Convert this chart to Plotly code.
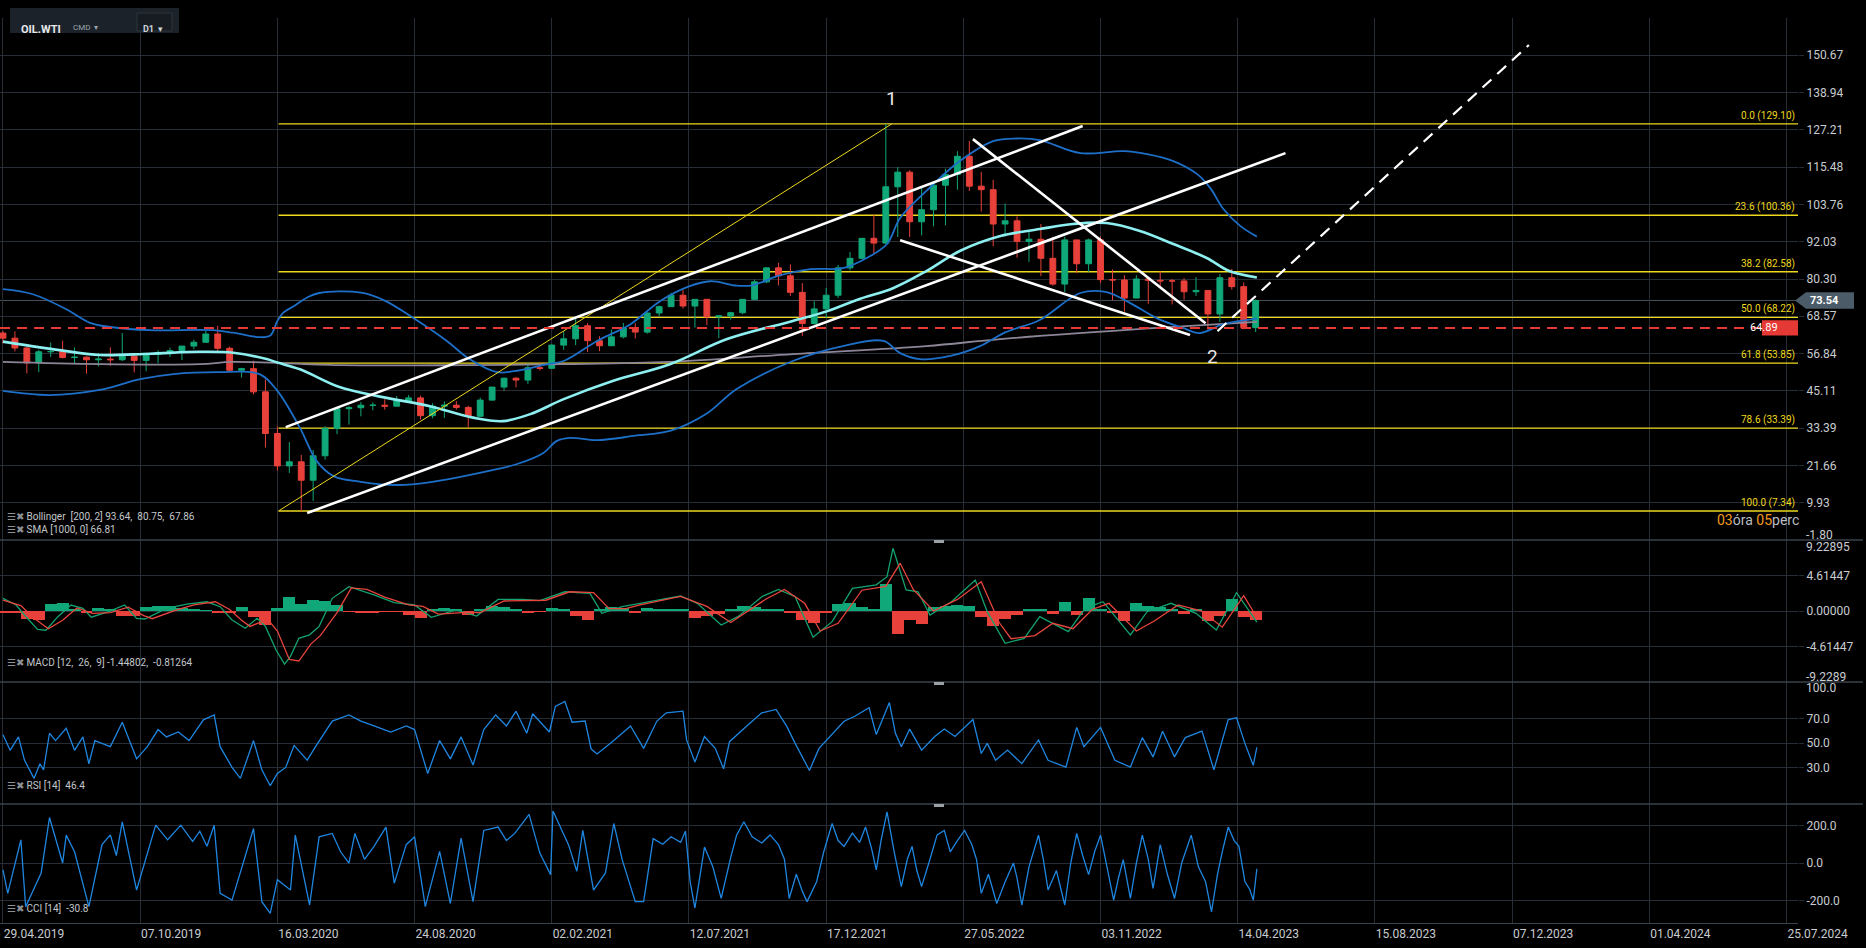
import plotly.graph_objects as go
from plotly.subplots import make_subplots

# x axis is the trading-day index, 0 = 29.04.2019, one gridline every 115 bars
date_ticks = [0, 115, 230, 345, 460, 575, 690, 805, 920, 1035, 1150, 1265, 1380, 1495]
date_labels = ['29.04.2019', '07.10.2019', '16.03.2020', '24.08.2020', '02.02.2021',
               '12.07.2021', '17.12.2021', '27.05.2022', '03.11.2022', '14.04.2023',
               '15.08.2023', '07.12.2023', '01.04.2024', '25.07.2024']
x_range = [-2.5, 1504.6]

# price candles, one per 10 trading days
candle_idx = list(range(0, 1060, 10))
first_open = 63.3
high = [64.0, 63.8, 59.0, 58.0, 60.3, 60.9, 58.8, 56.0, 57.0, 58.8,
        63.3, 57.0, 56.9, 57.9, 58.7, 59.2, 61.2, 64.1, 65.6, 59.0,
        52.4, 54.6, 48.7, 34.0, 29.0, 25.0, 26.5, 34.0, 39.7, 40.4,
        41.6, 41.5, 42.5, 43.5, 43.8, 43.6, 41.2, 41.8, 41.9, 40.4,
        43.0, 46.3, 49.3, 49.4, 53.9, 53.9, 59.8, 63.8, 67.9, 66.4,
        62.3, 64.4, 66.5, 66.4, 69.8, 72.0, 76.0, 76.9, 74.0, 74.0,
        68.8, 70.0, 74.0, 80.1, 84.0, 85.4, 84.9, 79.0, 73.3, 77.5,
        84.7, 88.8, 93.2, 100.5, 129.1, 115.5, 114.5, 109.0, 110.0, 115.0,
        120.5, 123.7, 114.0, 111.5, 104.0, 100.0, 95.5, 97.6, 93.6, 93.6,
        92.6, 93.0, 93.7, 83.3, 81.5, 81.5, 80.5, 82.7, 80.3, 80.6,
        80.9, 76.5, 81.8, 83.5, 79.2, 73.9]
low = [60.0, 57.5, 50.6, 51.0, 55.8, 55.3, 53.6, 50.5, 52.8, 53.0,
       54.5, 50.9, 51.3, 53.8, 55.8, 54.8, 58.2, 60.2, 57.4, 51.3,
       49.3, 44.0, 27.3, 20.0, 19.3, 7.3, 10.5, 23.5, 31.5, 34.5,
       37.1, 39.0, 39.2, 40.2, 41.5, 36.1, 36.5, 36.6, 39.2, 33.6,
       37.0, 42.0, 45.2, 46.2, 47.3, 51.5, 52.0, 58.0, 59.5, 57.3,
       57.6, 59.3, 61.6, 61.6, 63.1, 68.5, 71.5, 71.0, 65.0, 65.8,
       61.7, 67.5, 69.2, 73.9, 79.0, 78.3, 75.0, 62.4, 66.0, 68.1,
       74.3, 83.0, 86.5, 88.0, 91.3, 93.5, 93.5, 94.0, 96.9, 97.2,
       108.4, 108.0, 101.5, 90.6, 93.7, 87.0, 85.7, 81.2, 78.2, 76.2,
       82.1, 82.5, 79.0, 73.6, 70.1, 74.3, 72.5, 78.0, 72.3, 73.8,
       75.0, 64.4, 66.8, 77.0, 64.5, 63.6]
close = [61.7, 58.6, 53.9, 57.4, 57.5, 55.6, 55.7, 54.9, 55.1, 54.9,
         56.0, 54.7, 56.6, 57.2, 57.8, 59.2, 60.4, 63.0, 58.5, 51.6,
         52.1, 44.8, 31.7, 21.5, 22.8, 17.0, 24.7, 33.3, 39.5, 39.8,
         40.6, 40.6, 40.3, 42.0, 42.9, 37.3, 40.3, 40.6, 39.9, 37.1,
         42.2, 46.3, 49.1, 48.5, 52.4, 52.2, 59.5, 61.5, 65.6, 60.9,
         59.3, 62.1, 64.9, 63.6, 69.6, 71.6, 75.2, 71.8, 73.9, 68.4,
         68.7, 69.7, 73.9, 79.4, 83.8, 81.3, 76.1, 66.3, 70.9, 75.2,
         83.8, 86.8, 93.1, 91.6, 109.3, 113.9, 98.3, 102.1, 109.8, 113.2,
         118.9, 109.5, 108.4, 97.6, 98.6, 92.1, 92.8, 86.8, 78.7, 92.6,
         85.1, 92.6, 80.1, 80.0, 74.3, 80.3, 79.9, 79.7, 79.7, 76.3,
         76.7, 69.3, 80.7, 77.9, 65.0, 73.54]
opens = [first_open] + close[:-1]

# Bollinger (200, 2) and SMA 1000
bb_up_x = [0, 25, 53, 73, 90, 123, 176, 193, 215, 224, 230, 235, 244, 255, 265, 300, 320,
           344, 372, 391, 414, 428, 456, 470, 498, 526, 551, 575, 593, 615, 629, 649, 677,
           704, 724, 741, 752, 774, 802, 830, 850, 869, 903, 939, 960, 981, 1001, 1012,
           1023, 1037, 1051]
bb_up_y = [77.1, 75.5, 70.8, 66.5, 65.2, 64.2, 64.2, 63.4, 62.0, 62.5, 67.1, 69.7, 71.8,
           74.5, 75.9, 76.0, 73.5, 68.0, 60.8, 55.1, 51.0, 51.3, 53.5, 54.5, 60.8, 66.1,
           73.4, 78.0, 79.6, 78.2, 78.4, 81.2, 83.4, 83.7, 86.9, 91.3, 99.5, 108.0, 117.4,
           123.7, 124.5, 124.0, 119.9, 120.5, 119.5, 117.4, 113.3, 108.9, 102.3, 97.0, 93.64]
bb_mid_x = [0, 53, 81, 123, 165, 193, 221, 230, 249, 282, 316, 358, 394, 419, 442, 470,
            511, 559, 607, 662, 691, 718, 746, 774, 802, 836, 869, 897, 925, 953, 981,
            1009, 1028, 1051]
bb_mid_y = [60.6, 57.6, 56.4, 56.8, 57.4, 57.1, 55.1, 54.0, 51.9, 46.3, 43.3, 40.3, 36.7,
            35.6, 37.8, 42.5, 48.2, 53.5, 61.4, 67.1, 70.2, 74.0, 77.4, 82.8, 89.1, 93.8,
            96.0, 97.6, 97.9, 95.4, 91.3, 86.9, 82.8, 80.75]
bb_low_x = [0, 39, 81, 115, 143, 179, 215, 230, 249, 263, 277, 300, 330, 360, 414, 431,
            453, 464, 475, 498, 530, 559, 590, 615, 662, 704, 738, 752, 769, 794, 819,
            840, 869, 903, 925, 945, 967, 989, 1003, 1023, 1051]
bb_low_y = [45.1, 43.8, 45.4, 48.8, 50.4, 51.0, 50.4, 45.1, 33.4, 23.0, 18.3, 16.5, 15.5,
            16.5, 20.5, 22.1, 25.6, 29.3, 30.3, 29.6, 31.0, 32.5, 38.0, 45.7, 54.5, 59.2,
            60.8, 57.0, 55.1, 56.1, 59.2, 63.5, 67.4, 75.9, 76.2, 72.7, 68.0, 64.9, 63.3,
            66.1, 67.86]
sma_x = [0, 81, 165, 193, 282, 386, 470, 559, 662, 774, 836, 967, 1051]
sma_y = [54.2, 53.5, 53.5, 54.2, 53.2, 53.2, 53.5, 54.2, 56.7, 59.2, 61.4, 64.9, 66.81]

# Fibonacci retracement
fib_names = ['0.0', '23.6', '38.2', '50.0', '61.8', '78.6', '100.0']
fib_levels = [129.10, 100.36, 82.58, 68.22, 53.85, 33.39, 7.34]
fib_start = 231
fib_diag_x = [231, 745]
fib_diag_y = [7.34, 129.10]

# hand drawn trend lines
chan_up_x, chan_up_y = [237, 905], [33.7, 128.4]
chan_low_x, chan_low_y = [255, 1075], [6.7, 119.9]
wedge_up_x, wedge_up_y = [813, 1008], [124.3, 66.4]
wedge_low_x, wedge_low_y = [752, 995], [92.5, 62.7]
proj_x, proj_y = [1018, 1279], [63.9, 153.9]
wave_labels = ['1', '2']
wave_x = [745, 1014]
wave_y = [137.0, 56.0]
support_level = 64.89
last_price = 73.54

# MACD (12, 26, 9)
macd_x = [0, 11, 18, 29, 36, 46, 57, 67, 74, 88, 102, 112, 119, 137, 154, 171, 182, 192,
          203, 213, 220, 229, 236, 241, 248, 257, 265, 276, 290, 300, 311, 328, 345, 359,
          380, 397, 415, 436, 450, 471, 492, 502, 519, 534, 551, 568, 582, 602, 616, 636,
          650, 664, 679, 695, 712, 732, 741, 746, 757, 767, 777, 795, 815, 825, 840, 856,
          869, 893, 907, 922, 945, 959, 979, 1000, 1017, 1034, 1051]
macd_y = [1.65, 0.78, -0.52, -2.4, -2.5, -0.74, 0.78, 0.35, -0.8, -0.1, 0.78, -0.95, -1.04,
          0.35, 0.9, 1.2, 0.56, -1.17, -2.25, -0.95, -2.0, -5.1, -6.9, -5.9, -3.55, -3.1,
          -2.0, 1.65, 3.16, 2.7, 2.1, 1.08, 0.78, -0.82, 0.13, -0.65, 1.5, 1.5, 1.34, 2.5,
          2.3, -0.3, 0.56, 1.0, 1.43, 1.95, 1.0, -1.82, -0.74, 1.86, 2.8, 1.86, -3.4, -1.39,
          2.95, 3.4, 4.46, 8.15, 2.73, 2.5, -0.52, 1.21, 4.03, -0.09, -4.2, -3.55, -0.74,
          -2.69, 0.35, 1.21, -3.12, -0.09, 1.0, -0.3, -2.47, 2.38, -1.448]
signal_x = [0, 15, 25, 38, 50, 62, 75, 90, 105, 118, 125, 145, 160, 178, 190, 200, 207,
            222, 230, 240, 248, 258, 266, 280, 292, 305, 320, 340, 352, 365, 385, 400, 420,
            440, 455, 475, 495, 508, 522, 534, 568, 590, 610, 640, 655, 672, 685, 700, 720,
            740, 752, 763, 780, 800, 820, 835, 845, 865, 880, 897, 913, 927, 950, 965, 985,
            1005, 1022, 1040, 1051]
signal_y = [1.4, 0.7, -0.8, -2.3, -1.2, 0.4, -0.3, -0.2, 0.5, -0.6, -1.0, 0.1, 0.8, 1.2,
            0.2, -1.2, -2.0, -1.1, -2.6, -6.3, -6.5, -4.3, -3.2, -0.2, 3.0, 2.8, 1.8, 0.8,
            0.6, -0.4, -0.2, -0.2, 1.3, 1.4, 1.4, 2.5, 2.4, 0.3, 0.3, 0.8, 1.9, 0.6, -1.5,
            1.6, 2.8, 1.0, -2.6, -1.6, 2.7, 3.2, 6.2, 2.8, 0.0, 1.5, 3.8, -1.5, -3.6, -3.2,
            -1.6, -2.3, 0.2, 1.0, -2.6, -1.3, 0.8, 0.0, -2.1, 2.0, -0.81]
hist = [-0.3, -0.2, -1.0, -1.2, 0.9, 1.1, 0.3, -0.2, 0.4, 0.3,
        -0.6, -0.7, 0.5, 0.6, 0.6, 0.4, 0.3, 0.1, -0.3, -0.2,
        0.5, -0.8, -1.8, 0.4, 1.8, 0.9, 1.4, 1.3, 0.8, -0.1,
        -0.2, -0.2, -0.1, -0.1, -0.5, -0.9, 0.2, 0.4, 0.3, -0.5,
        0.3, 0.6, 0.5, 0.2, -0.2, -0.1, 0.4, 0.3, -0.6, -1.2,
        0.2, 0.5, 0.4, -0.2, 0.4, 0.2, 0.3, 0.2, -0.9, -0.6,
        -0.4, 0.2, 0.6, 0.5, 0.3, 0.2, -0.2, -1.2, -1.5, -0.3,
        0.9, 1.0, 0.5, 0.2, 3.5, -3.0, -1.2, -1.7, 0.5, 0.6,
        0.8, 0.7, -0.8, -2.0, -1.0, -0.5, 0.3, 0.2, -0.4, 1.2,
        -0.5, 1.7, 0.2, -0.3, -1.3, 1.1, 0.6, 0.5, 0.3, -0.4,
        0.3, -1.3, -0.6, 1.6, -0.8, -1.2]

# RSI (14)
rsi_x = [0, 6, 13, 18, 26, 31, 34, 39, 44, 53, 60, 67, 72, 77, 90, 100, 112, 121, 130, 137,
         147, 156, 168, 177, 182, 192, 199, 210, 217, 224, 230, 237, 244, 255, 262, 269, 276,
         290, 300, 311, 325, 338, 345, 356, 366, 375, 384, 394, 403, 413, 422, 430, 439, 444,
         458, 463, 471, 477, 488, 493, 498, 512, 526, 537, 548, 556, 570, 573, 580, 588, 597,
         604, 609, 623, 636, 648, 657, 664, 676, 684, 695, 705, 714, 726, 732, 743, 748, 753,
         760, 770, 781, 789, 798, 813, 820, 825, 832, 842, 854, 868, 876, 891, 900, 906, 920,
         932, 945, 955, 964, 972, 982, 991, 1005, 1015, 1027, 1034, 1041, 1048, 1051]
rsi_y = [56.7, 44, 55, 36, 21, 33, 28, 58, 52, 62, 44, 55, 33, 52, 47, 67, 37, 47, 61, 55,
         59, 52, 69, 73, 47, 30, 21, 52, 28, 15, 25, 30, 48, 36, 47, 58, 68, 73, 68, 64,
         59, 64, 61, 25, 52, 37, 55, 32, 61, 73, 64, 76, 58, 74, 59, 80, 84, 67, 68, 45,
         41, 52, 64, 45.6, 67.8, 74.7, 76.1, 52.5, 34.4, 55.3, 45.6, 28.9, 51.1, 63.6, 74.7,
         77.5, 63.6, 49.7, 27.5, 45.6, 56.9, 67.8, 71.9, 78.9, 56.9, 83.1, 58.1, 47.0, 61.4,
         44.2, 55.3, 61.4, 55.3, 69.2, 41.4, 49.7, 35.8, 44.2, 33.1, 52.5, 35.8, 30.3, 62.8,
         47.0, 62.8, 35.8, 30.3, 54.4, 38.6, 59.7, 38.6, 54.4, 59.7, 28.1, 69.2, 70.6, 49.7,
         31.7, 46.4]

# CCI (14)
cci_x = [0, 4, 15, 19, 32, 39, 50, 53, 60, 66, 72, 83, 90, 95, 100, 112, 120, 128, 138, 149,
         159, 165, 171, 177, 182, 192, 210, 217, 224, 230, 241, 245, 257, 265, 276, 283, 290,
         295, 303, 311, 321, 328, 338, 345, 354, 366, 375, 384, 394, 403, 415, 422, 429, 441,
         450, 459, 461, 474, 481, 486, 495, 505, 512, 519, 530, 537, 545, 553, 560, 568, 572,
         576, 580, 588, 595, 602, 610, 615, 621, 628, 636, 643, 650, 655, 659, 665, 670, 674,
         682, 688, 695, 700, 705, 712, 718, 723, 728, 732, 736, 741, 747, 753, 758, 762, 766,
         770, 777, 783, 789, 794, 800, 806, 812, 816, 820, 826, 833, 840, 847, 850, 854, 860,
         868, 872, 876, 883, 890, 895, 900, 905, 910, 915, 920, 926, 931, 935, 939, 945, 950,
         955, 960, 964, 970, 976, 982, 988, 996, 1002, 1008, 1013, 1018, 1022, 1027, 1032,
         1036, 1041, 1045, 1048, 1051]
cci_y = [-36, -162, 124, -233, -53, 243, 0, 149, 60, -80, -233, 98, 150, 40, 220, -144, 30,
         202, 124, 202, 116, 170, 90, 202, -162, -198, 184, -206, -269, -89, -144, 149, -224,
         140, 158, 60, 0, 158, 20, 89, 192, -107, 98, 140, -233, 62, -216, 133, -206, 174,
         192, 120, 158, 260, 53, -62, 278, 98, -44, 174, -144, -53, 211, 18, -206, -206, 130,
         100, 140, 110, 170, -100, -240, 85, -20, -189, 30, 150, 220, 140, 107, 150, 98, 20,
         -189, -60, -150, -206, -100, 60, 211, 120, 89, 160, 110, 192, 80, -36, 120, 273, 60,
         -126, 20, 89, -40, -126, 20, 150, 174, 60, 120, 174, 100, 20, -162, -60, -216, -100,
         0, -80, -224, -20, 149, 20, -144, -40, -224, 0, 158, 40, -62, 60, 149, -40, -198,
         -80, 18, -189, 0, 149, 20, -135, 98, -60, -189, 0, 149, -20, -100, -260, -60, 60,
         192, 120, 89, -100, -140, -198, -30.8]

# axis ticks
main_ticks = [9.93, 21.66, 33.39, 45.11, 56.84, 68.57, 80.30, 92.03, 103.76, 115.48,
              127.21, 138.94, 150.67]
macd_ticks = [4.61447, 0.0, -4.61447]
rsi_ticks = [70, 50, 30]
cci_ticks = [200, 0, -200]

GRID = '#262d35'
SEP = '#3a424c'
TXT = '#c8ccd0'
GREEN = '#10a878'
RED = '#e8403a'
FIB = '#eed81c'
BLUE = '#1d6fc8'
LINE_BLUE = '#1f86e0'

PW, TOP, PH = 1798, 18, 905


def px_x(px):
    return px / PW


def px_y(py):
    return (TOP + PH - py) / PH


fig = make_subplots(rows=4, cols=1, shared_xaxes=True, vertical_spacing=0,
                    row_heights=[522 / PH, 142 / PH, 122 / PH, 119 / PH])

# main price panel
fig.add_trace(go.Candlestick(x=candle_idx, open=opens, high=high, low=low, close=close,
                             increasing=dict(line=dict(color=GREEN, width=1), fillcolor=GREEN),
                             decreasing=dict(line=dict(color=RED, width=1), fillcolor=RED),
                             hoverinfo='skip'), row=1, col=1)
fig.add_trace(go.Scatter(x=sma_x, y=sma_y, mode='lines', line=dict(color='#8d8598', width=1.8),
                         line_shape='spline'), row=1, col=1)
fig.add_trace(go.Scatter(x=bb_up_x, y=bb_up_y, mode='lines', line=dict(color=BLUE, width=1.8),
                         line_shape='spline'), row=1, col=1)
fig.add_trace(go.Scatter(x=bb_low_x, y=bb_low_y, mode='lines', line=dict(color=BLUE, width=1.8),
                         line_shape='spline'), row=1, col=1)
fig.add_trace(go.Scatter(x=bb_mid_x, y=bb_mid_y, mode='lines',
                         line=dict(color='#8eeff0', width=2.6), line_shape='spline'), row=1, col=1)
fig.add_trace(go.Scatter(x=fib_diag_x, y=fib_diag_y, mode='lines',
                         line=dict(color=FIB, width=1)), row=1, col=1)
for lx, ly in [(chan_up_x, chan_up_y), (chan_low_x, chan_low_y),
               (wedge_up_x, wedge_up_y), (wedge_low_x, wedge_low_y)]:
    fig.add_trace(go.Scatter(x=lx, y=ly, mode='lines', line=dict(color='white', width=2.6)),
                  row=1, col=1)
fig.add_trace(go.Scatter(x=proj_x, y=proj_y, mode='lines',
                         line=dict(color='white', width=2.2, dash='12px,8px')), row=1, col=1)

# MACD panel
fig.add_trace(go.Bar(x=candle_idx, y=hist, width=10,
                     marker=dict(color=[GREEN if v >= 0 else RED for v in hist], line_width=0)),
              row=2, col=1)
fig.add_trace(go.Scatter(x=macd_x, y=macd_y, mode='lines', line=dict(color='#12a36f', width=1.3)),
              row=2, col=1)
fig.add_trace(go.Scatter(x=signal_x, y=signal_y, mode='lines', line=dict(color='#e8453c', width=1.3)),
              row=2, col=1)

# RSI and CCI panels
fig.add_trace(go.Scatter(x=rsi_x, y=rsi_y, mode='lines', line=dict(color=LINE_BLUE, width=1.3)),
              row=3, col=1)
fig.add_trace(go.Scatter(x=cci_x, y=cci_y, mode='lines', line=dict(color=LINE_BLUE, width=1.3)),
              row=4, col=1)

tickfont = dict(family='Roboto', size=12, color=TXT)
fig.update_xaxes(range=x_range, tickvals=date_ticks, ticktext=date_labels, showgrid=True,
                 gridcolor=GRID, gridwidth=1, zeroline=False, showline=False, ticks='',
                 rangeslider_visible=False, tickfont=tickfont, fixedrange=True)
fig.update_xaxes(showticklabels=True, ticklabelshift=31, showline=True, linecolor=SEP,
                 row=4, col=1)
fig.update_yaxes(side='right', showgrid=True, gridcolor=GRID, zeroline=False, ticks='outside',
                 ticklen=5, tickcolor=GRID, tickfont=tickfont, fixedrange=True)
fig.update_yaxes(range=[-1.8, 162.4], tickvals=main_ticks,
                 ticktext=['%.2f' % v for v in main_ticks], row=1, col=1)
fig.update_yaxes(range=[-9.2289, 9.22895], tickvals=macd_ticks,
                 ticktext=['%.5f' % v for v in macd_ticks], row=2, col=1)
fig.update_yaxes(range=[0, 100], tickvals=rsi_ticks,
                 ticktext=['%.1f' % v for v in rsi_ticks], row=3, col=1)
fig.update_yaxes(range=[-320, 315], tickvals=cci_ticks,
                 ticktext=['%.1f' % v for v in cci_ticks], row=4, col=1)

shapes = []
for lvl in fib_levels:
    shapes.append(dict(type='line', xref='x', yref='y', x0=fib_start, x1=x_range[1], y0=lvl, y1=lvl,
                       line=dict(color=FIB, width=1.4), layer='between'))
shapes.append(dict(type='line', xref='paper', yref='y', x0=0, x1=1, y0=last_price, y1=last_price,
                   line=dict(color='#46505a', width=1), layer='between'))
shapes.append(dict(type='line', xref='paper', yref='y', x0=0, x1=px_x(1762), y0=support_level,
                   y1=support_level, line=dict(color='#e53935', width=2, dash='10px,7px')))
shapes.append(dict(type='rect', xref='paper', yref='y', x0=px_x(1762), x1=1.0,
                   y0=support_level - 2.4, y1=support_level + 2.4,
                   fillcolor='#e53935', line_width=0))
p = last_price
xt, xl, xr = px_x(1795), px_x(1806), px_x(1854)
shapes.append(dict(type='path', xref='paper', yref='y',
                   path=f'M {xt},{p} L {xl},{p + 2.6} L {xr},{p + 2.6} L {xr},{p - 2.6} '
                        f'L {xl},{p - 2.6} Z',
                   fillcolor='#4b5b68', line_width=0))
for yb in [540, 682, 804]:
    shapes.append(dict(type='line', xref='paper', yref='paper', x0=0, x1=px_x(1863),
                       y0=px_y(yb), y1=px_y(yb), line=dict(color=SEP, width=1.5)))
    shapes.append(dict(type='rect', xref='paper', yref='paper', x0=px_x(934), x1=px_x(944),
                       y0=px_y(yb + 3), y1=px_y(yb), fillcolor='#9aa0a6', line_width=0))
# instrument box
shapes.append(dict(type='rect', xref='paper', yref='paper', x0=px_x(10), x1=px_x(179),
                   y0=px_y(33), y1=px_y(8), fillcolor='#1b2229', line_width=0))
shapes.append(dict(type='rect', xref='paper', yref='paper', x0=px_x(137), x1=px_x(172),
                   y0=px_y(31), y1=px_y(13), fillcolor='#161c22',
                   line=dict(color='#2c343c', width=1)))

ann = []
for name, lvl in zip(fib_names, fib_levels):
    ann.append(dict(x=0.9992, xref='paper', y=lvl, yref='y', xanchor='right', yanchor='bottom',
                    text=f'{name} ({lvl:.2f})', showarrow=False,
                    font=dict(family='Roboto', size=10, color=FIB)))
for t, wx, wy in zip(wave_labels, wave_x, wave_y):
    ann.append(dict(x=wx, y=wy, xref='x', yref='y', text=t, showarrow=False,
                    font=dict(family='Roboto', size=19, color='#e8e8e8')))
ann.append(dict(x=(px_x(1762) + 1) / 2, xref='paper', y=support_level, yref='y',
                text='%.2f' % support_level, showarrow=False,
                font=dict(family='Roboto', size=11, color='white')))
ann.append(dict(x=px_x(1808), xref='paper', y=last_price, yref='y', xanchor='left',
                text='<b>%.2f</b>' % last_price, showarrow=False,
                font=dict(family='Roboto', size=11, color='white')))
edge_labels = [('-1.80', -1.8, 'y', 5), ('9.22895', 9.22895, 'y2', -7),
               ('-9.2289', -9.2289, 'y2', 5), ('100.0', 100, 'y3', -6)]
for t, v, yr, ys in edge_labels:
    ann.append(dict(x=1, xref='paper', xshift=6, y=v, yref=yr, xanchor='left', yanchor='middle',
                    text=t, showarrow=False, font=tickfont, yshift=ys))
orange = '#f39a1e'
ann.append(dict(x=px_x(1801), xref='paper', y=px_y(520), yref='paper', xanchor='right',
                text=f"<span style='color:{orange}'>03</span>óra "
                     f"<span style='color:{orange}'>05</span>perc",
                showarrow=False, font=dict(family='Roboto', size=14, color='#b9bdc1')))
icons = "<span style='color:#8c9196'>☰✖</span> "
legend_rows = [('Bollinger  [200, 2] 93.64,  80.75,  67.86', 516),
               ('SMA [1000, 0] 66.81', 529),
               ('MACD [12,  26,  9] -1.44802,  -0.81264', 670),
               ('RSI [14]  46.4', 793),
               ('CCI [14]  -30.8', 916)]
for t, yy in legend_rows:
    ann.append(dict(x=px_x(5), xref='paper', y=px_y(yy), yref='paper', xanchor='left',
                    text=icons + t, showarrow=False,
                    font=dict(family='Roboto', size=10, color='#c3c7cb')))
ann.append(dict(x=px_x(19), xref='paper', y=px_y(21), yref='paper', xanchor='left',
                text='<b>OIL.WTI</b>', showarrow=False,
                font=dict(family='Roboto', size=11, color='#e6e8ea')))
ann.append(dict(x=px_x(71), xref='paper', y=px_y(21), yref='paper', xanchor='left',
                text='CMD  ▾', showarrow=False,
                font=dict(family='Roboto', size=8, color='#9aa3ab')))
ann.append(dict(x=px_x(141), xref='paper', y=px_y(22), yref='paper', xanchor='left',
                text='<b>D1</b>  ▾', showarrow=False,
                font=dict(family='Roboto', size=9, color='#d0d4d8')))

fig.update_layout(width=1866, height=948, margin=dict(l=0, r=68, t=TOP, b=25),
                  paper_bgcolor='black', plot_bgcolor='black', showlegend=False,
                  hovermode=False, shapes=shapes, annotations=ann, bargap=0)

# page margin off so the chart sits at the window corner like the screenshot
fig.write_html("out.html", config={'displayModeBar': False},
               post_script="document.body.style.margin='0px';"
                           "document.body.style.background='black';")
